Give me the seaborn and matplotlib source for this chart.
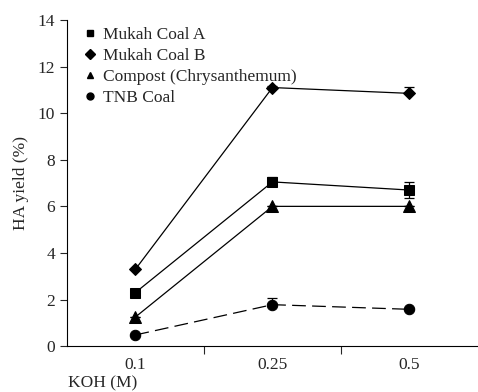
import numpy as np
import pandas as pd
import matplotlib
matplotlib.use("Agg")
import matplotlib.pyplot as plt
from matplotlib.lines import Line2D
import seaborn as sns

sns.set_style("ticks")
plt.rcParams["font.family"] = ["Liberation Serif", "DejaVu Serif"]

#%%
# data

koh = ["0.1", "0.25", "0.5"]
samples = ["Mukah Coal A", "Mukah Coal B", "Compost (Chrysanthemum)", "TNB Coal"]

mukah_a = [2.3, 7.05, 6.7]
mukah_b = [3.3, 11.1, 10.85]
compost = [1.25, 6.0, 6.0]
tnb = [0.48, 1.78, 1.58]

# error bars (lower, upper)
mukah_a_err = [[0, 0, 0.35], [0, 0.2, 0.35]]
mukah_b_err = [[0, 0, 0], [0, 0.05, 0.28]]
compost_err = [[0, 0, 0], [0, 0, 0]]
tnb_err = [[0, 0, 0], [0, 0.3, 0]]

#%%

values = [mukah_a, mukah_b, compost, tnb]
errors = [mukah_a_err, mukah_b_err, compost_err, tnb_err]
marker_map = {"Mukah Coal A": "s", "Mukah Coal B": "D",
              "Compost (Chrysanthemum)": "^", "TNB Coal": "o"}
size_map = {"Mukah Coal A": 6.5, "Mukah Coal B": 6,
            "Compost (Chrysanthemum)": 9, "TNB Coal": 7.5}
dash_map = {"Mukah Coal A": "-", "Mukah Coal B": "-",
            "Compost (Chrysanthemum)": "-", "TNB Coal": (0, (11, 5))}

fig = plt.figure(figsize=(4.78, 3.92), dpi=100)
ax = fig.add_axes([0.14, 0.117, 0.86, 0.832])

pos = np.arange(len(koh))

for name, vals, err in zip(samples, values, errors):
    df = pd.DataFrame({"pos": pos, "yield": vals})
    sns.lineplot(data=df, x="pos", y="yield", ax=ax, color="black",
                 linewidth=0.9, linestyle=dash_map[name],
                 marker=marker_map[name], markersize=size_map[name],
                 markeredgecolor="black", legend=False)
    ax.errorbar(pos, vals, yerr=err, fmt="none", ecolor="black",
                elinewidth=0.9, capsize=3.5, capthick=0.9)

ax.set_xlim(-0.5, 2.5)
ax.set_ylim(0, 14)
ax.set_yticks(range(0, 15, 2))
ax.set_xticks([0.5, 1.5])
ax.set_xticklabels([])
ax.set_xticks(pos, minor=True)
ax.set_xticklabels(koh, minor=True)
ax.tick_params(axis="x", which="major", length=6, width=0.8, direction="out")
ax.tick_params(axis="x", which="minor", length=0, pad=8, labelsize=12.5)
ax.tick_params(axis="y", length=5, width=0.8, labelsize=12.5, direction="out")

sns.despine(ax=ax)
for s in ["left", "bottom"]:
    ax.spines[s].set_linewidth(0.8)
    ax.spines[s].set_color("black")

ax.set_ylabel("HA yield (%)", fontsize=12.5, labelpad=6)
ax.set_xlabel("")
fig.text(0.143, 0.002, "KOH (M)", fontsize=12.5, ha="left", va="bottom")

handles = [Line2D([], [], color="black", linestyle="none",
                  marker=marker_map[n], markersize=5) for n in samples]
ax.legend(handles, samples, loc="upper left", bbox_to_anchor=(0.015, 1.015),
          frameon=False, fontsize=12.5, handlelength=0.6, handletextpad=0.4,
          labelspacing=0.28, borderpad=0.2)

fig.savefig("out.png", dpi=100)
